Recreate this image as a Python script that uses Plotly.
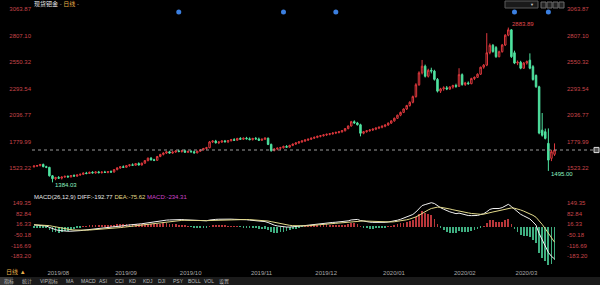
import plotly.graph_objects as go
import pandas as pd

# ---------------- data ----------------
START_DATE = "2019-07-29"
END_DATE = "2020-03-20"

OPEN = [1535, 1542, 1546, 1558, 1536, 1530, 1448, 1420, 1430, 1425,
        1436, 1442, 1437, 1450, 1445, 1456, 1462, 1474, 1470, 1482,
        1476, 1485, 1478, 1484, 1480, 1488, 1484, 1508, 1524, 1535,
        1530, 1546, 1554, 1550, 1566, 1552, 1570, 1595, 1618, 1602,
        1598, 1635, 1655, 1668, 1680, 1668, 1678, 1688, 1684, 1690,
        1676, 1684, 1680, 1670, 1686, 1700, 1712, 1720, 1776, 1784,
        1768, 1775, 1785, 1778, 1788, 1798, 1792, 1810, 1802, 1812,
        1806, 1798, 1810, 1804, 1792, 1802, 1812, 1752, 1692, 1708,
        1715, 1720, 1732, 1725, 1742, 1755, 1766, 1776, 1785, 1794,
        1802, 1812, 1820, 1830, 1836, 1844, 1850, 1855, 1862, 1868,
        1874, 1884, 1905, 1930, 1972, 1960, 1942, 1860, 1875, 1884,
        1892, 1900, 1910, 1918, 1928, 1940, 1958, 1980, 2005, 2035,
        2062, 2095, 2128, 2160, 2215, 2330, 2445, 2510, 2412, 2470,
        2462, 2382, 2268, 2290, 2300, 2288, 2308, 2322, 2315, 2428,
        2332, 2348, 2340, 2390, 2402, 2432, 2500, 2520, 2640, 2712,
        2690, 2602, 2650, 2715, 2810, 2862, 2640, 2540, 2548, 2490,
        2540, 2568, 2505, 2420, 2310, 1890, 1875, 1762, 1617, 1656]
HIGH = [1548, 1552, 1562, 1566, 1545, 1534, 1455, 1438, 1445, 1440,
        1450, 1452, 1455, 1462, 1460, 1468, 1480, 1486, 1488, 1492,
        1490, 1495, 1490, 1496, 1494, 1500, 1512, 1530, 1540, 1548,
        1552, 1560, 1568, 1572, 1578, 1575, 1600, 1625, 1630, 1612,
        1640, 1660, 1675, 1685, 1690, 1685, 1695, 1700, 1698, 1702,
        1690, 1696, 1692, 1690, 1705, 1718, 1728, 1785, 1792, 1796,
        1782, 1790, 1795, 1792, 1805, 1812, 1815, 1822, 1818, 1825,
        1820, 1815, 1824, 1818, 1808, 1820, 1818, 1760, 1715, 1722,
        1728, 1740, 1745, 1748, 1760, 1772, 1782, 1790, 1800, 1808,
        1818, 1828, 1836, 1842, 1850, 1856, 1862, 1868, 1875, 1882,
        1890, 1910, 1935, 1980, 1985, 1970, 1952, 1882, 1890, 1898,
        1905, 1915, 1925, 1935, 1945, 1965, 1985, 2012, 2040, 2070,
        2100, 2135, 2170, 2225, 2345, 2460, 2570, 2525, 2485, 2495,
        2475, 2395, 2300, 2315, 2318, 2315, 2330, 2340, 2490, 2440,
        2358, 2362, 2398, 2410, 2440, 2505, 2530, 2830, 2730, 2725,
        2705, 2660, 2725, 2820, 2883.89, 2868, 2660, 2565, 2562, 2550,
        2565, 2634, 2520, 2430, 2320, 2056, 1905, 1907, 1700, 1762]
LOW = [1528, 1535, 1540, 1530, 1522, 1440, 1384.03, 1405, 1418, 1412,
       1428, 1430, 1432, 1440, 1438, 1448, 1455, 1462, 1465, 1470,
       1468, 1472, 1470, 1476, 1472, 1478, 1480, 1500, 1515, 1525,
       1526, 1536, 1545, 1546, 1548, 1548, 1565, 1588, 1595, 1590,
       1594, 1628, 1645, 1660, 1662, 1660, 1670, 1675, 1672, 1670,
       1668, 1674, 1664, 1665, 1680, 1692, 1700, 1715, 1765, 1760,
       1755, 1766, 1770, 1765, 1780, 1785, 1788, 1796, 1795, 1800,
       1792, 1790, 1800, 1785, 1786, 1795, 1745, 1680, 1685, 1695,
       1700, 1712, 1718, 1720, 1735, 1748, 1758, 1768, 1776, 1785,
       1795, 1804, 1812, 1820, 1828, 1834, 1840, 1846, 1852, 1858,
       1866, 1878, 1898, 1925, 1950, 1935, 1830, 1850, 1866, 1875,
       1882, 1890, 1900, 1908, 1918, 1932, 1950, 1972, 1998, 2025,
       2055, 2085, 2118, 2150, 2205, 2320, 2430, 2400, 2400, 2440,
       2370, 2255, 2250, 2272, 2278, 2280, 2292, 2300, 2310, 2320,
       2318, 2330, 2335, 2375, 2395, 2425, 2485, 2510, 2625, 2640,
       2590, 2595, 2642, 2705, 2800, 2590, 2530, 2520, 2480, 2485,
       2525, 2480, 2370, 2300, 1850, 1827, 1800, 1495.00, 1590, 1640]
CLOSE = [1542, 1546, 1558, 1536, 1530, 1448, 1420, 1430, 1425, 1436,
         1442, 1437, 1450, 1445, 1456, 1462, 1474, 1470, 1482, 1476,
         1485, 1478, 1484, 1480, 1488, 1484, 1508, 1524, 1535, 1530,
         1546, 1554, 1550, 1566, 1552, 1570, 1595, 1618, 1602, 1598,
         1635, 1655, 1668, 1680, 1668, 1678, 1688, 1684, 1690, 1676,
         1684, 1680, 1670, 1686, 1700, 1712, 1720, 1776, 1784, 1768,
         1775, 1785, 1778, 1788, 1798, 1792, 1810, 1802, 1812, 1806,
         1798, 1810, 1804, 1792, 1802, 1812, 1752, 1692, 1708, 1715,
         1720, 1732, 1725, 1742, 1755, 1766, 1776, 1785, 1794, 1802,
         1812, 1820, 1830, 1836, 1844, 1850, 1855, 1862, 1868, 1874,
         1884, 1905, 1930, 1972, 1960, 1942, 1860, 1875, 1884, 1892,
         1900, 1910, 1918, 1928, 1940, 1958, 1980, 2005, 2035, 2062,
         2095, 2128, 2160, 2215, 2330, 2445, 2510, 2412, 2470, 2462,
         2382, 2268, 2290, 2300, 2288, 2308, 2322, 2315, 2428, 2332,
         2348, 2340, 2390, 2402, 2432, 2500, 2520, 2640, 2712, 2652,
         2602, 2650, 2715, 2810, 2862, 2602, 2540, 2548, 2490, 2540,
         2555, 2490, 2380, 2310, 1862, 1840, 1810, 1600, 1681, 1697.7]

PRICE_TICKS = [1523.22, 1779.99, 2036.77, 2293.54, 2550.32, 2807.10, 3063.87]
MACD_TICKS = [-183.20, -116.69, -50.18, 16.33, 82.84, 149.35]
EVENT_IDX = [47, 81, 98, 156, 167]          # blue event dots along the top
EVENT_LEVEL = 3035
SEED_DIFF, SEED_DEA = 12.0, 14.0           # MACD state at the first visible bar
LEGEND_DIFF, LEGEND_DEA, LEGEND_MACD = "-192.77", "-75.62", "-234.31"
TABS = ["指标", "统计", "VIP指标", "MA", "MACD", "ASI", "CCI", "KD", "KDJ",
        "DJI", "PSY", "BOLL", "VOL", "设置"]

# ---------------- derived ----------------
dates = pd.bdate_range(START_DATE, END_DATE)[:len(CLOSE)]
idx = list(range(len(CLOSE)))
month_start = [i for i in idx if i == 0 or dates[i].month != dates[i - 1].month][1:]
month_text = [dates[i].strftime("%Y/%m") for i in month_start]

ema12 = CLOSE[0] + SEED_DIFF
ema26 = CLOSE[0]
dea = SEED_DEA
DIFF, DEA, HIST = [], [], []
for i, c in enumerate(CLOSE):
    if i > 0:
        ema12 = ema12 * 11 / 13 + c * 2 / 13
        ema26 = ema26 * 25 / 27 + c * 2 / 27
    d = ema12 - ema26
    if i > 0:
        dea = dea * 8 / 10 + d * 2 / 10
    DIFF.append(d)
    DEA.append(dea)
    HIST.append(2 * (d - dea))

RED = "#e0393e"
GREEN = "#4fe3a0"
HRED = "#b8363a"
HGREEN = "#3fae80"
AXRED = "#c8454a"
FONT = "Liberation Sans, Noto Sans CJK SC, sans-serif"

W, H = 600, 285
XL, XR = 32, 566           # plot area in px
X0, DX = 34, 3.08          # first bar centre, bar pitch (px)
xr = [(XL - X0) / DX, (XR - X0) / DX]

# price panel: px 0..190
P_TOP_PX, P_BOT_PX = 0, 190
k = 26.5 / 256.77
prange = [3063.87 - (P_BOT_PX - 9) / k, 3063.87 + (9 - P_TOP_PX) / k]
# macd panel: px 192..266
M_TOP_PX, M_BOT_PX = 192, 266
km = 10.6 / 66.51
mrange = [16.33 - (M_BOT_PX - 224.3) / km, 16.33 + (224.3 - M_TOP_PX) / km]

fig = go.Figure()
fig.add_trace(go.Candlestick(
    x=idx, open=OPEN, high=HIGH, low=LOW, close=CLOSE,
    increasing=dict(line=dict(color=RED, width=1), fillcolor="#000000"),
    decreasing=dict(line=dict(color=GREEN, width=1), fillcolor=GREEN),
    whiskerwidth=0, xaxis="x", yaxis="y", hoverinfo="skip", showlegend=False))
fig.add_trace(go.Scatter(x=EVENT_IDX, y=[EVENT_LEVEL] * len(EVENT_IDX), mode="markers",
                         marker=dict(size=5, color="#3b7fe0"), xaxis="x", yaxis="y",
                         showlegend=False, hoverinfo="skip"))
fig.add_trace(go.Scatter(x=[idx[-1]], y=[CLOSE[-1]], mode="markers", opacity=0,
                         xaxis="x", yaxis="y3", showlegend=False, hoverinfo="skip"))
# MACD
fig.add_trace(go.Bar(x=idx, y=HIST, width=0.26,
                     marker=dict(color=[HRED if v >= 0 else HGREEN for v in HIST], line=dict(width=0)),
                     xaxis="x2", yaxis="y2", showlegend=False, hoverinfo="skip"))
fig.add_trace(go.Scatter(x=idx, y=DIFF, mode="lines", line=dict(color="#f2f2f2", width=1),
                         xaxis="x2", yaxis="y2", showlegend=False, hoverinfo="skip"))
fig.add_trace(go.Scatter(x=idx, y=DEA, mode="lines", line=dict(color="#e2d98a", width=1),
                         xaxis="x2", yaxis="y2", showlegend=False, hoverinfo="skip"))
fig.add_trace(go.Scatter(x=[idx[-1]], y=[0], mode="markers", opacity=0,
                         xaxis="x2", yaxis="y4", showlegend=False, hoverinfo="skip"))

dom_x = [XL / W, XR / W]
common_y = dict(showgrid=False, zeroline=False, showline=False, ticks="",
                tickfont=dict(family=FONT, size=6, color=AXRED), fixedrange=True)
fig.update_layout(
    width=W, height=H, margin=dict(l=0, r=0, t=0, b=0),
    paper_bgcolor="#000000", plot_bgcolor="#000000",
    font=dict(family=FONT, size=6, color="#cccccc"),
    xaxis=dict(domain=dom_x, range=xr, anchor="y", showticklabels=False, showgrid=False,
               zeroline=False, rangeslider=dict(visible=False)),
    xaxis2=dict(domain=dom_x, range=xr, anchor="y2", matches="x", showgrid=False, zeroline=False,
                tickvals=month_start, ticktext=month_text, ticks="", ticklabelshift=15,
                ticklabelstandoff=2,
                tickfont=dict(family=FONT, size=6, color="#a8a8a8")),
    yaxis=dict(domain=[1 - P_BOT_PX / H, 1 - P_TOP_PX / H], range=prange, anchor="x", side="left",
               tickvals=PRICE_TICKS, ticktext=[f"{v:.2f}" for v in PRICE_TICKS], **common_y),
    yaxis3=dict(range=prange, overlaying="y", anchor="x", side="right",
                tickvals=PRICE_TICKS, ticktext=[f"{v:.2f}" for v in PRICE_TICKS], **common_y),
    yaxis2=dict(domain=[1 - M_BOT_PX / H, 1 - M_TOP_PX / H], range=mrange, anchor="x2", side="left",
                tickvals=MACD_TICKS, ticktext=[f"{v:.2f}" for v in MACD_TICKS], **common_y),
    yaxis4=dict(range=mrange, overlaying="y2", anchor="x2", side="right",
                tickvals=MACD_TICKS, ticktext=[f"{v:.2f}" for v in MACD_TICKS], **common_y),
    bargap=0,
)

# last-price dotted line and its handle
fig.add_shape(type="line", xref="paper", yref="y", x0=XL / W, x1=596 / W, y0=CLOSE[-1], y1=CLOSE[-1],
              line=dict(color="#9a9a9a", width=1, dash="dot"))
fig.add_shape(type="rect", xref="paper", yref="y", x0=594 / W, x1=599 / W,
              y0=CLOSE[-1] - 25, y1=CLOSE[-1] + 25, line=dict(color="#dddddd", width=1),
              fillcolor="#555555")

# toolbar at the top right
fig.add_shape(type="rect", xref="paper", yref="paper", x0=505 / W, x1=538 / W,
              y0=1 - 8 / H, y1=1 - 1 / H, line=dict(color="#5a5a5a", width=1), fillcolor="#1a1a1a")
for bx in (541, 547, 553, 559):
    fig.add_shape(type="rect", xref="paper", yref="paper", x0=bx / W, x1=(bx + 5) / W,
                  y0=1 - 8 / H, y1=1 - 2 / H, line=dict(color="#6a6a6a", width=1), fillcolor="#222222")
fig.add_annotation(x=536 / W, y=1 - 4.5 / H, xref="paper", yref="paper", showarrow=False,
                   xanchor="right", yanchor="middle", text="▼",
                   font=dict(family=FONT, size=4, color="#cccccc"))

# extreme labels
imax = max(idx, key=lambda i: HIGH[i])
imin1 = min(idx[:40], key=lambda i: LOW[i])
imin2 = 150 + min(range(len(LOW) - 150), key=lambda j: LOW[150 + j])
fig.add_annotation(x=imax, y=HIGH[imax], xref="x", yref="y", text=f"{HIGH[imax]:.2f}",
                   showarrow=False, xanchor="left", yanchor="middle", xshift=2, yshift=4,
                   font=dict(family=FONT, size=6, color="#e0494e"))
for im in (imin1, imin2):
    fig.add_annotation(x=im, y=LOW[im], xref="x", yref="y", text=f"{LOW[im]:.2f}",
                       showarrow=False, xanchor="left", yanchor="middle", xshift=1, yshift=-3,
                       font=dict(family=FONT, size=6, color="#8ef0c0"))

# title
fig.add_annotation(x=32 / W, y=1 - 4 / H, xref="paper", yref="paper", showarrow=False,
                   xanchor="left", yanchor="middle",
                   text="<span style='color:#e8e8e8'>现货钯金</span> <span style='color:#aaaaaa'>-</span> "
                        "<span style='color:#e8b04a'>日线</span> <span style='color:#aaaaaa'>-</span>",
                   font=dict(family=FONT, size=6))
# MACD legend
fig.add_annotation(x=32 / W, y=1 - 197 / H, xref="paper", yref="paper", showarrow=False,
                   xanchor="left", yanchor="middle",
                   text=f"<span style='color:#e8e8e8'>MACD(26,12,9) DIFF:{LEGEND_DIFF}</span> "
                        f"<span style='color:#e2d98a'>DEA:{LEGEND_DEA}</span> "
                        f"<span style='color:#cc44cc'>MACD:{LEGEND_MACD}</span>",
                   font=dict(family=FONT, size=6))
fig.add_annotation(x=4 / W, y=1 - 272 / H, xref="paper", yref="paper", showarrow=False,
                   xanchor="left", yanchor="middle", text="日线 ▲",
                   font=dict(family=FONT, size=6, color="#e8b04a"))

# bottom tab bar
fig.add_shape(type="rect", xref="paper", yref="paper", x0=0, x1=1, y0=0, y1=(H - 277) / H,
              fillcolor="#1b1b1b", line=dict(width=0), layer="below")
fig.add_shape(type="rect", xref="paper", yref="paper", x0=0, x1=13 / W, y0=0, y1=(H - 277) / H,
              fillcolor="#3a3a3a", line=dict(width=0), layer="below")
tab_x = [2, 20, 38, 64, 79, 97, 113, 127, 141, 156, 171, 186, 202, 217]
for tx, tt in zip(tab_x, TABS):
    fig.add_annotation(x=tx / W, y=(H - 281) / H, xref="paper", yref="paper", showarrow=False,
                       xanchor="left", yanchor="middle", text=tt,
                       font=dict(family=FONT, size=5, color="#bdbdbd"))

fig.write_html("out.html")
